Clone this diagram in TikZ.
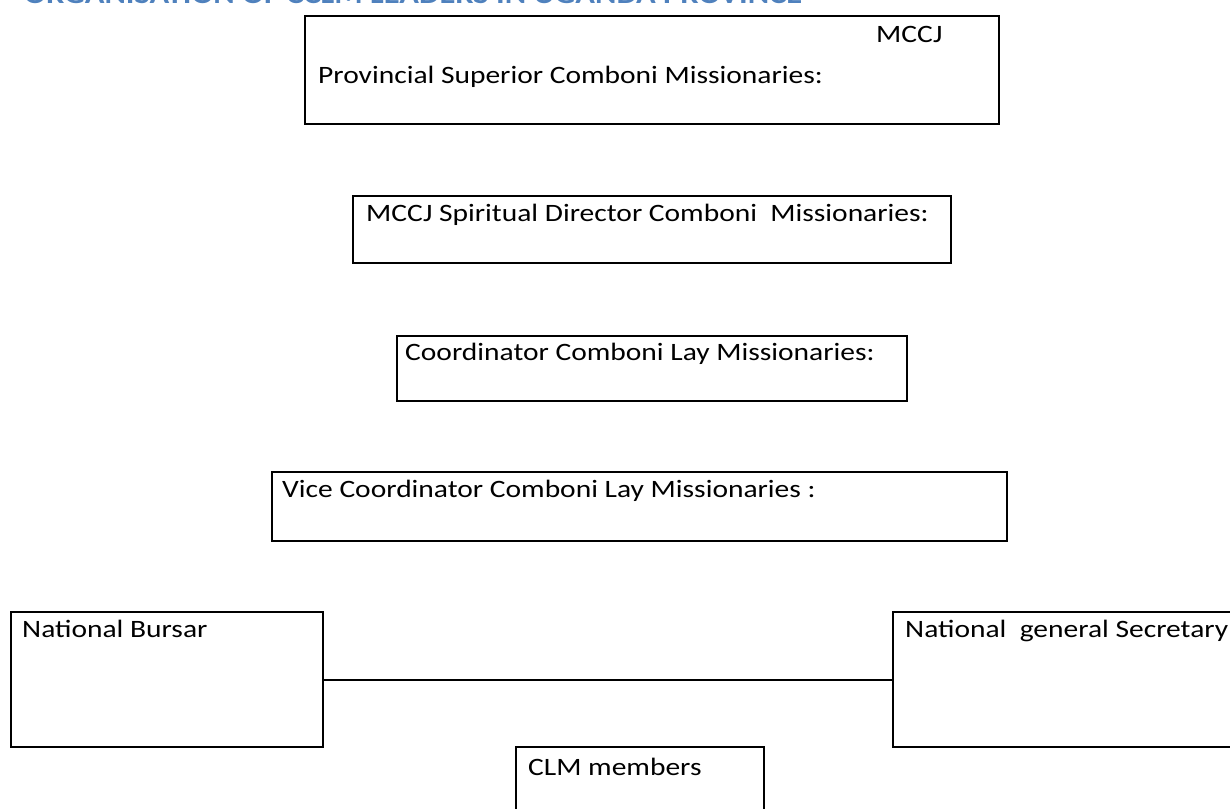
\documentclass[tikz,border=0pt]{standalone}
\usepackage{fontspec}
\setmainfont{Carlito}
\newfontfamily\boxfont[FakeStretch=1.18]{Carlito}
\newfontfamily\headfont[FakeStretch=1.16]{Carlito}
\usetikzlibrary{positioning}
\definecolor{headblue}{RGB}{79,129,189}

\begin{document}
\begin{tikzpicture}[x=1pt,y=-1pt,
      box/.style={draw,line width=2pt,inner sep=0pt,anchor=north west},
      txt/.style={anchor=base west,inner sep=0pt,font=\boxfont\fontsize{25}{30}\selectfont}]

      \useasboundingbox (0,0) rectangle (1230,808);

      % heading, cut by the top of the page
      \node[anchor=base west,inner sep=0pt,text=headblue,
        font=\headfont\fontsize{28}{32}\selectfont\bfseries] (title) at (24,4)
        {ORGANISATION OF CCLM LEADERS IN UGANDA PROVINCE};

      \node[box,minimum width=694pt,minimum height=108pt] (super) at (304,15) {};
      \node[txt] (superA) at (876,42) {MCCJ};
      \node[txt] (superB) at (318,83) {Provincial Superior Comboni Missionaries:};

      \node[box,minimum width=598pt,minimum height=67pt] (spirit) at (352,195) {};
      \node[txt] (spiritA) at (366,221) {MCCJ Spiritual Director Comboni\ \ Missionaries:};

      \node[box,minimum width=510pt,minimum height=65pt] (coord) at (396,335) {};
      \node[txt] (coordA) at (405,360) {Coordinator Comboni Lay Missionaries:};

      \node[box,minimum width=735pt,minimum height=69pt] (vice) at (271,471) {};
      \node[txt] (viceA) at (282,497) {Vice Coordinator Comboni Lay Missionaries :};

      \node[box,minimum width=312pt,minimum height=135pt] (bursar) at (10,611) {};
      \node[txt] (bursarA) at (22,637) {National Bursar};

      \node[box,minimum width=350pt,minimum height=135pt] (secr) at (892,611) {};
      \node[txt] (secrA) at (905,637) {National\ \ general Secretary};

      \node[box,minimum width=248pt,minimum height=80pt] (clm) at (515,746) {};
      \node[txt] (clmA) at (528,775) {CLM members};

      \draw[line width=2pt] (bursar.east) -- (secr.west);

\end{tikzpicture}
\end{document}
